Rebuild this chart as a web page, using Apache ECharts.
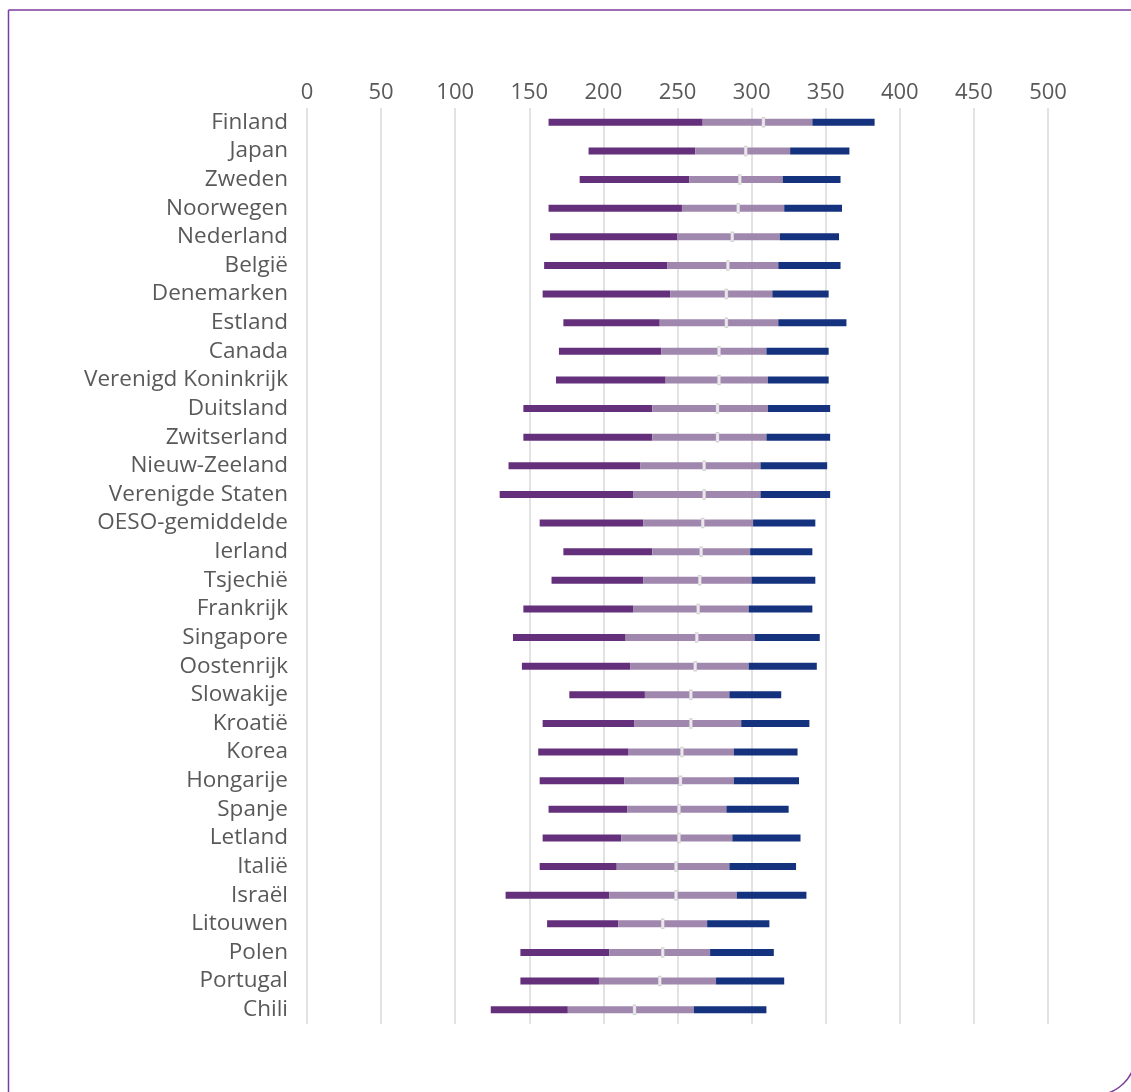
<!DOCTYPE html>
<html>
<head>
<meta charset="utf-8">
<script src="https://cdn.jsdelivr.net/npm/echarts@6/dist/echarts.min.js"></script>
<style>
html,body{margin:0;padding:0;background:#fff;}
#chart{width:1131px;height:1092px;}
</style>
</head>
<body>
<div id="chart"></div>
<script>
const countries = ["Finland","Japan","Zweden","Noorwegen","Nederland","België","Denemarken","Estland","Canada","Verenigd Koninkrijk","Duitsland","Zwitserland","Nieuw-Zeeland","Verenigde Staten","OESO-gemiddelde","Ierland","Tsjechië","Frankrijk","Singapore","Oostenrijk","Slowakije","Kroatië","Korea","Hongarije","Spanje","Letland","Italië","Israël","Litouwen","Polen","Portugal","Chili"];
const p10 =    [163,190,184,163,164,160,159,173,170,168,146,146,136,130,157,173,165,146,139,145,177,159,156,157,163,159,157,134,162,144,144,124];
const p25 =    [267,262,258,253,250,243,245,238,239,242,233,233,225,220,227,233,227,220,215,218,228,221,217,214,216,212,209,204,210,204,197,176];
const median = [308,296,292,291,287,284,283,283,278,278,277,277,268,268,267,266,265,264,263,262,259,259,253,252,251,251,249,249,240,240,238,221];
const p75 =    [341,326,321,322,319,318,314,318,310,311,311,310,306,306,301,299,300,298,302,298,285,293,288,288,283,287,285,290,270,272,276,261];
const p90 =    [383,366,360,361,359,360,352,364,352,352,353,353,351,353,343,341,343,341,346,344,320,339,331,332,325,333,330,337,312,315,322,310];
const xTicks = {min:0, max:500, interval:50};

const chart = echarts.init(document.getElementById('chart'), null, {renderer:'canvas'});
const font = '"Open Sans", sans-serif';
const textColor = '#595959';
const barW = 7;

chart.setOption({
  animation:false,
  backgroundColor:'#ffffff',
  grid:{left:307, right:83, top:108, bottom:68, containLabel:false},
  xAxis:{
    type:'value', position:'top', min:xTicks.min, max:xTicks.max, interval:xTicks.interval,
    axisLine:{show:false}, axisTick:{show:false},
    axisLabel:{color:textColor, fontFamily:font, fontSize:22, margin:4},
    splitLine:{show:true, lineStyle:{color:'#d9d9d9', width:1.5}}
  },
  yAxis:{
    type:'category', data:countries, inverse:true,
    axisLine:{show:false}, axisTick:{show:false},
    axisLabel:{interval:0, color:textColor, fontFamily:font, fontSize:22.5, margin:19, padding:[3,0,0,0]}
  },
  series:[
    {type:'bar', stack:'s', barWidth:barW, itemStyle:{color:'rgba(0,0,0,0)'}, data:p10, silent:true},
    {type:'bar', stack:'s', barWidth:barW, itemStyle:{color:'#65307B'}, data:p25.map((v,i)=>v-p10[i])},
    {type:'bar', stack:'s', barWidth:barW, itemStyle:{color:'#A087AE'}, data:p75.map((v,i)=>v-p25[i])},
    {type:'bar', stack:'s', barWidth:barW, itemStyle:{color:'#15327F'}, data:p90.map((v,i)=>v-p75[i])},
    {type:'scatter', symbol:'rect', symbolSize:[3,9], z:5,
     itemStyle:{color:'#ffffff', borderColor:'#c8c8c8', borderWidth:0.8},
     data:median.map((v,i)=>[v,i])}
  ],
  graphic:[
    {type:'rect', shape:{x:8.5, y:10, width:1127, height:1085, r:[0,0,40,0]},
     style:{fill:null, stroke:'#7A3E9D', lineWidth:1.5}, z:100, silent:true}
  ]
});
</script>
</body>
</html>
